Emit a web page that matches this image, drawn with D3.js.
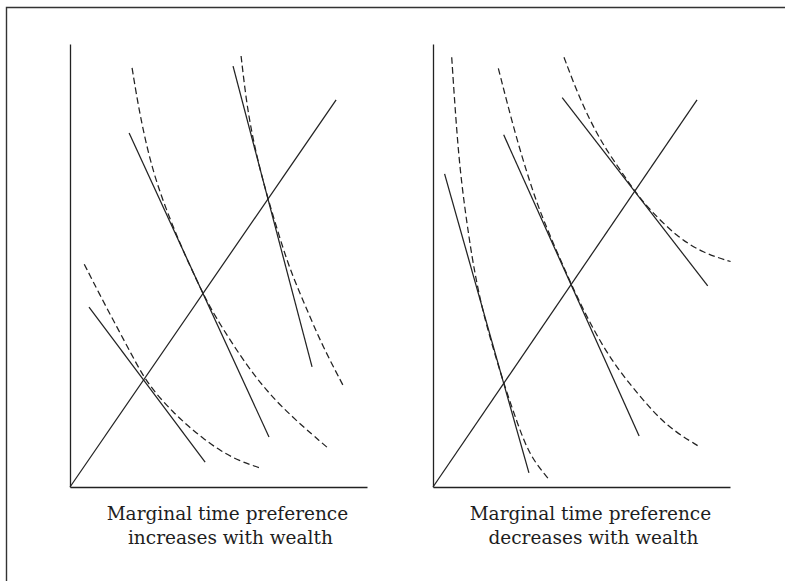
<!DOCTYPE html>
<html>
<head>
<meta charset="utf-8">
<script src="https://cdn.jsdelivr.net/npm/d3@7"></script>
<style>
  body { margin: 0; background: #fff; }
  svg { display: block; }
</style>
</head>
<body>
<svg id="chart" width="785" height="581"></svg>
<script>
// axis units: both panels run 0..100 on x and y
const xDomain = [0, 100]
const yDomain = [0, 100]

const leftLabel = ['Marginal time preference', 'increases with wealth']
const rightLabel = ['Marginal time preference', 'decreases with wealth']

// ray from the origin
const leftDiagonal = [[0, 0], [89.6, 87.4]]
const rightDiagonal = [[0, 0], [88.9, 87.4]]

// straight (solid) lines, [start, end]
const leftSolid = [
  [[6.4, 40.6], [45.5, 5.6]],
  [[19.9, 79.9], [67.0, 11.3]],
  [[54.9, 95.0], [81.5, 27.1]],
]
const rightSolid = [
  [[3.9, 70.7], [32.3, 3.2]],
  [[23.8, 79.5], [69.4, 11.5]],
  [[43.5, 87.9], [92.5, 45.4]],
]

// dashed curves, points
const leftCurveLow = [[4.8, 50.3], [10.4, 42.9], [15.8, 36.1], [20.5, 30.2], [24.8, 24.8], [29.3, 20.8],
  [34.7, 16.9], [39.7, 13.8], [45.1, 10.8], [50.8, 8.1], [56.9, 5.9], [64.0, 4.3]]
const leftCurveMid = [[20.9, 94.6], [23.6, 83.5], [27.9, 70.9], [33.7, 60.3], [39.7, 50.8], [44.8, 43.7],
  [48.1, 39.3], [59.6, 27.1], [70.7, 18.1], [86.5, 9.0]]
const leftCurveHigh = [[57.6, 97.3], [59.3, 87.4], [61.3, 79.5], [64.0, 71.6], [66.7, 65.0], [70.4, 56.7],
  [74.1, 49.0], [79.1, 41.1], [84.8, 32.1], [91.9, 23.0]]

const rightCurveLow = [[6.3, 97.0], [7.4, 85.8], [9.1, 70.8], [12.2, 55.8], [14.1, 48.2], [16.4, 40.7],
  [19.4, 33.2], [23.8, 23.4], [28.4, 14.4], [32.7, 6.8], [39.2, 1.6]]
const rightCurveMid = [[22.0, 94.5], [27.6, 79.8], [32.7, 68.6], [36.6, 61.0], [46.5, 45.7], [53.4, 36.2],
  [60.7, 27.9], [69.7, 20.4], [78.7, 13.6], [89.7, 9.1]]
const rightCurveHigh = [[44.1, 97.0], [49.5, 87.4], [56.2, 78.3], [61.9, 72.7], [67.9, 66.7], [73.1, 62.5],
  [82.1, 56.5], [91.0, 52.8], [100.2, 50.9]]

const ink = '#222'
const svg = d3.select('#chart')

// page frame (open at right and bottom, as in the scan)
svg.append('path')
  .attr('d', 'M6.5,581V7.5H785')
  .attr('fill', 'none')
  .attr('stroke', '#333')
  .attr('stroke-width', 1.4)

function drawPanel(left, label, diagonal, solids, curves) {
  const x = d3.scaleLinear().domain(xDomain).range([left, left + 297])
  const y = d3.scaleLinear().domain(yDomain).range([487, 44])
  const g = svg.append('g')

  g.append('g')
    .attr('transform', `translate(0,${y(0)})`)
    .call(d3.axisBottom(x).ticks(0).tickSizeOuter(0))
  g.append('g')
    .attr('transform', `translate(${x(0)},0)`)
    .call(d3.axisLeft(y).ticks(0).tickSizeOuter(0))
  g.selectAll('.domain').attr('stroke', ink).attr('stroke-width', 1.3)

  const line = d3.line().x(d => x(d[0])).y(d => y(d[1]))
  const curve = d3.line().x(d => x(d[0])).y(d => y(d[1])).curve(d3.curveBasis)

  g.append('path')
    .attr('d', line(diagonal))
    .attr('fill', 'none')
    .attr('stroke', ink)
    .attr('stroke-width', 1.25)

  g.selectAll('.solid').data(solids).enter().append('path')
    .attr('class', 'solid')
    .attr('d', line)
    .attr('fill', 'none')
    .attr('stroke', ink)
    .attr('stroke-width', 1.25)

  g.selectAll('.dashed').data(curves).enter().append('path')
    .attr('class', 'dashed')
    .attr('d', curve)
    .attr('fill', 'none')
    .attr('stroke', ink)
    .attr('stroke-width', 1.25)
    .attr('stroke-dasharray', '6.5,3.5')

  const cx = x(xDomain[0] + 53)
  g.selectAll('.label').data(label).enter().append('text')
    .attr('class', 'label')
    .attr('x', (d, i) => cx + (i ? 3 : 0))
    .attr('y', (d, i) => 520 + i * 24)
    .attr('text-anchor', 'middle')
    .attr('font-family', '"Palatino Linotype", Palatino, "Book Antiqua", "DejaVu Serif", serif')
    .attr('font-size', 18.5)
    .attr('fill', '#1e1e1e')
    .text(d => d)
}

drawPanel(70, leftLabel, leftDiagonal, leftSolid, [leftCurveLow, leftCurveMid, leftCurveHigh])
drawPanel(433, rightLabel, rightDiagonal, rightSolid, [rightCurveLow, rightCurveMid, rightCurveHigh])
</script>
</body>
</html>
